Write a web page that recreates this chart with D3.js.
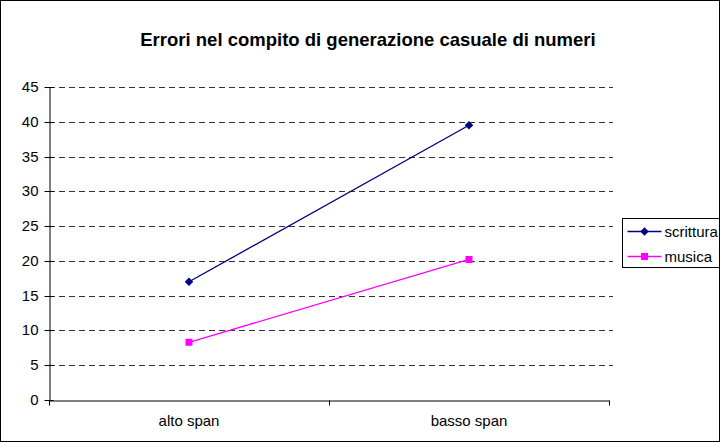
<!DOCTYPE html>
<html>
<head>
<meta charset="utf-8">
<script src="https://cdn.jsdelivr.net/npm/d3@7"></script>
<style>
    body { margin: 0; background: #fff; }
    svg { font-family: "Liberation Sans", Arial, sans-serif; }
</style>
</head>
<body>
<div id="chart"></div>
<script>
// Chart values
const categories = ["alto span", "basso span"];
const scrittura = [17, 39.5];
const musica = [8.3, 20.2];
const yTicks = [0, 5, 10, 15, 20, 25, 30, 35, 40, 45];
const seriesNames = ["scrittura", "musica"];

drawChart();

function drawChart() {
    const W = 720, H = 442;
    const plot = { left: 49, right: 609, top: 87, bottom: 400 };

    const svg = d3.select("#chart")
        .append("svg")
        .attr("width", W)
        .attr("height", H);

    // Outer border
    svg.append("rect")
        .attr("x", 0.5).attr("y", 0.5)
        .attr("width", W - 1).attr("height", H - 1)
        .attr("fill", "#fff")
        .attr("stroke", "#000");

    const xScale = d3.scaleBand()
        .domain(categories)
        .range([plot.left, plot.right]);

    const yScale = d3.scaleLinear()
        .domain([0, 45])
        .range([plot.bottom, plot.top]);

    // Dashed gridlines
    svg.append("g")
        .selectAll("line")
        .data(yTicks.filter(d => d > 0))
        .enter()
        .append("line")
        .attr("x1", plot.left)
        .attr("x2", plot.right + 4)
        .attr("y1", d => Math.round(yScale(d)) + 0.5)
        .attr("y2", d => Math.round(yScale(d)) + 0.5)
        .attr("stroke", "#333")
        .attr("stroke-dasharray", "6,4");

    // Y axis with crossing ticks
    const yAxis = svg.append("g")
        .attr("transform", `translate(${plot.left + 0.5},0)`)
        .call(d3.axisLeft(yScale).tickValues(yTicks).tickSizeInner(5).tickSizeOuter(0).tickPadding(6));
    yAxis.select(".domain").attr("stroke", "#000");
    yAxis.selectAll(".tick line").attr("x1", 4).attr("x2", -5).attr("stroke", "#000");
    yAxis.selectAll(".tick text").style("font-size", "15px").attr("fill", "#000");
    yAxis.selectAll(".tick").attr("transform", d => `translate(0,${Math.round(yScale(d)) + 0.5})`);

    // X axis
    const xAxis = svg.append("g")
        .attr("transform", `translate(0,${plot.bottom + 0.5})`)
        .call(d3.axisBottom(xScale).tickSize(0).tickPadding(15));
    xAxis.select(".domain").attr("stroke", "#000");
    xAxis.selectAll(".tick text").style("font-size", "15px").attr("fill", "#000");

    // Tick marks between categories
    const bounds = [plot.left, plot.left + xScale.bandwidth(), plot.right];
    xAxis.selectAll(".sep")
        .data(bounds)
        .enter()
        .append("line")
        .attr("x1", d => d + 0.5).attr("x2", d => d + 0.5)
        .attr("y1", 0).attr("y2", 5)
        .attr("stroke", "#000");

    // Title
    svg.append("text")
        .attr("x", 368)
        .attr("y", 46)
        .style("text-anchor", "middle")
        .style("font-size", "18.5px")
        .style("font-weight", "bold")
        .text("Errori nel compito di generazione casuale di numeri");

    const cx = (d, i) => xScale(categories[i]) + xScale.bandwidth() / 2;
    const line = d3.line()
        .x((d, i) => cx(d, i))
        .y(d => yScale(d));

    // scrittura series
    svg.append("path")
        .datum(scrittura)
        .attr("fill", "none")
        .attr("stroke", "#000080")
        .attr("stroke-width", 1.3)
        .attr("d", line);
    svg.selectAll(".diamond")
        .data(scrittura)
        .enter()
        .append("path")
        .attr("class", "diamond")
        .attr("transform", (d, i) => `translate(${cx(d, i)},${yScale(d)}) rotate(45)`)
        .attr("d", "M-3,-3H3V3H-3Z")
        .attr("fill", "#000080");

    // musica series
    svg.append("path")
        .datum(musica)
        .attr("fill", "none")
        .attr("stroke", "#ff00ff")
        .attr("stroke-width", 1.3)
        .attr("d", line);
    svg.selectAll(".square")
        .data(musica)
        .enter()
        .append("rect")
        .attr("class", "square")
        .attr("x", (d, i) => cx(d, i) - 3.5)
        .attr("y", d => yScale(d) - 3.5)
        .attr("width", 7).attr("height", 7)
        .attr("fill", "#ff00ff");

    // Legend
    const legend = svg.append("g").attr("transform", "translate(622.5,218.5)");
    legend.append("rect")
        .attr("width", 97).attr("height", 49)
        .attr("fill", "#fff")
        .attr("stroke", "#000");
    const colors = ["#000080", "#ff00ff"];
    seriesNames.forEach(function(name, i) {
        const y = 13 + i * 25;
        legend.append("line")
            .attr("x1", 5).attr("x2", 39)
            .attr("y1", y).attr("y2", y)
            .attr("stroke", colors[i])
            .attr("stroke-width", 1.3);
        if (i === 0) {
            legend.append("path")
                .attr("transform", `translate(22,${y}) rotate(45)`)
                .attr("d", "M-3,-3H3V3H-3Z")
                .attr("fill", colors[i]);
        } else {
            legend.append("rect")
                .attr("x", 18.5).attr("y", y - 3.5)
                .attr("width", 7).attr("height", 7)
                .attr("fill", colors[i]);
        }
        legend.append("text")
            .attr("x", 42)
            .attr("y", y + 5)
            .style("font-size", "15px")
            .text(name);
    });
}
</script>
</body>
</html>
